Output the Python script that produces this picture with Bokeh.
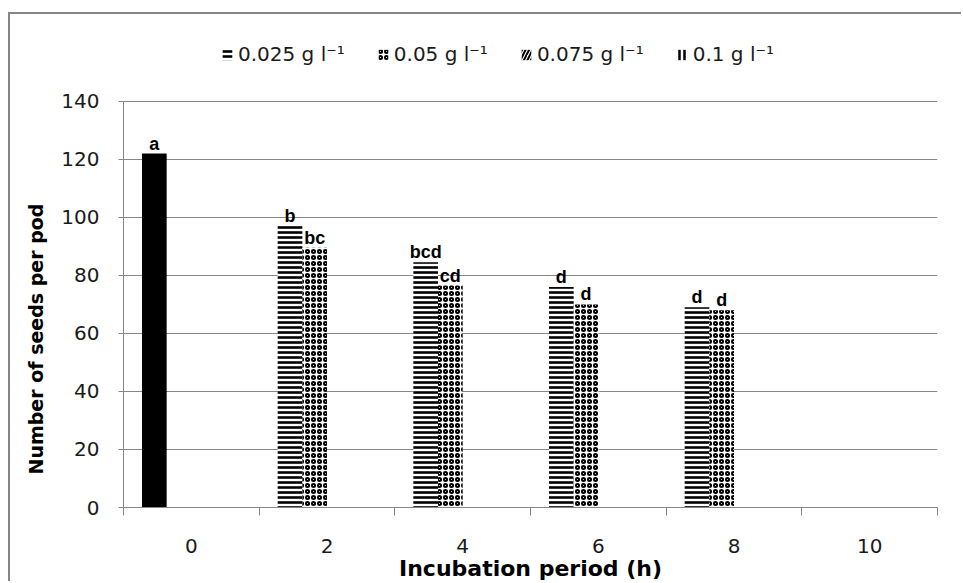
from bokeh.plotting import figure
from bokeh.models import (Range1d, FixedTicker, ColumnDataSource, Legend, LegendItem,
                          LabelSet, CDSView, IndexFilter, Title)
from bokeh.core.properties import value
from bokeh.embed import file_html
from bokeh.resources import INLINE

nan = float("nan")

# ---- data ----
categories = ["0", "2", "4", "6", "8", "10"]          # incubation period (h)
series_names = ["0.025 g l\u207b\u00b9", "0.05 g l\u207b\u00b9",
                "0.075 g l\u207b\u00b9", "0.1 g l\u207b\u00b9"]
s_0025 = [122, 97, 84.5, 76, 69, nan]
s_005 = [nan, 89.5, 76.5, 70, 68, nan]
s_0075 = [nan, nan, nan, nan, nan, nan]
s_01 = [nan, nan, nan, nan, nan, nan]
letters_0025 = ["a", "b", "bcd", "d", "d", ""]
letters_005 = ["", "bc", "cd", "d", "d", ""]
y_ticks = [0, 20, 40, 60, 80, 100, 120, 140]
y_max = 140

GRAY = "#868686"
n_series = 4
gap = 1.5                       # Excel gap width 150 %
bar_w = 1.0 / (n_series + gap)
start = gap * bar_w / 2

def xpos(k):
    return [i + start + (k + 0.5) * bar_w for i in range(len(categories))]

# layout (pixels): the frame is extended upward so the legend can sit inside it
W, H = 953, 569
left, right, top, bottom = 111, 26, 6, 75
plot_h = 407                      # height of the 0..140 value area
frame_h = H - top - bottom
y_end = y_max * frame_h / plot_h

p = figure(width=W, height=H, x_range=Range1d(0, len(categories)),
           y_range=Range1d(0, y_end), output_backend="svg", toolbar_location=None,
           min_border_left=left, min_border_right=right, min_border_top=top,
           min_border_bottom=bottom)
p.styles = {"margin-left": "8px", "margin-top": "12px",
            "border-top": f"2px solid {GRAY}", "border-left": f"2px solid {GRAY}"}
p.outline_line_color = None
p.background_fill_color = "white"
p.border_fill_color = "white"

series = [s_0025, s_005, s_0075, s_01]
patterns = ["horizontal_line", "ring", "right_diagonal_line", "vertical_line"]
scales = [5, 6, 7, 5]
weights = [2.6, 2.0, 2.0, 2.5]
sources = []
renderers = []
for k, vals in enumerate(series):
    src = ColumnDataSource(dict(x=xpos(k), top=vals, cat=categories))
    sources.append(src)
    view = CDSView(filter=IndexFilter(list(range(1, len(categories))))) if k == 0 else CDSView()
    r = p.vbar(x="x", top="top", width=bar_w, source=src, view=view,
               fill_color="white", line_color=None,
               hatch_pattern=patterns[k], hatch_color="black",
               hatch_scale=scales[k], hatch_weight=weights[k])
    renderers.append(r)

# control (0 h) point drawn solid black
p.vbar(x="x", top="top", width=bar_w, source=sources[0],
       view=CDSView(filter=IndexFilter([0])), fill_color="black", line_color=None)

# letters
lab1 = ColumnDataSource(dict(x=xpos(0), y=s_0025, t=letters_0025))
lab2 = ColumnDataSource(dict(x=xpos(1), y=s_005, t=letters_005))
for src in (lab1, lab2):
    p.add_layout(LabelSet(x="x", y="y", text="t", source=src, text_align="center",
                          text_baseline="alphabetic", y_offset=4,
                          text_font=value("Liberation Sans"), text_font_style="bold",
                          text_font_size="18px", text_color="black"))

# axes
yax = p.yaxis[0]
yax.ticker = FixedTicker(ticks=y_ticks)
yax.bounds = (0, y_max)
yax.axis_line_color = GRAY
yax.major_tick_line_color = GRAY
yax.major_tick_out = 5
yax.major_tick_in = 0
yax.minor_tick_line_color = None
yax.major_label_standoff = 19
yax.major_label_text_font = "DejaVu Sans"
yax.major_label_text_font_size = "20px"
yax.major_label_text_color = "#1a1a1a"

ytitle = Title(text="Number of seeds per pod", align="left", offset=33, standoff=24,
               text_font="DejaVu Sans", text_font_style="bold",
               text_font_size="19px", text_color="black")
p.add_layout(ytitle, "left")

xax = p.xaxis[0]
centers = [i + 0.5 for i in range(len(categories))]
xax.ticker = FixedTicker(ticks=centers, minor_ticks=list(range(len(categories) + 1)))
xax.major_label_overrides = {c: lab for c, lab in zip(centers, categories)}
xax.axis_line_color = GRAY
xax.major_tick_line_color = None
xax.major_tick_out = 0
xax.major_tick_in = 0
xax.minor_tick_line_color = GRAY
xax.minor_tick_out = 8
xax.minor_tick_in = 0
xax.major_label_standoff = 23
xax.major_label_text_font = "DejaVu Sans"
xax.major_label_text_font_size = "20px"
xax.major_label_text_color = "#1a1a1a"
xax.axis_label = "Incubation period (h)"
xax.axis_label_text_font = "DejaVu Sans"
xax.axis_label_text_font_style = "bold"
xax.axis_label_text_font_size = "22px"
xax.axis_label_text_color = "black"
xax.axis_label_standoff = 0

p.xgrid.grid_line_color = None
p.ygrid.ticker = FixedTicker(ticks=y_ticks)
p.ygrid.grid_line_color = GRAY
p.ygrid.grid_line_width = 1

legend = Legend(items=[LegendItem(label=n, renderers=[r]) for n, r in zip(series_names, renderers)],
                orientation="horizontal", location=(98, 441),
                glyph_width=12, glyph_height=13, label_standoff=5, spacing=32,
                padding=0, margin=0, border_line_color=None, background_fill_alpha=0,
                label_text_font="DejaVu Sans", label_text_font_size="20px",
                label_text_color="#1a1a1a")
p.add_layout(legend)

open("out.html", "w").write(file_html(p, INLINE))
